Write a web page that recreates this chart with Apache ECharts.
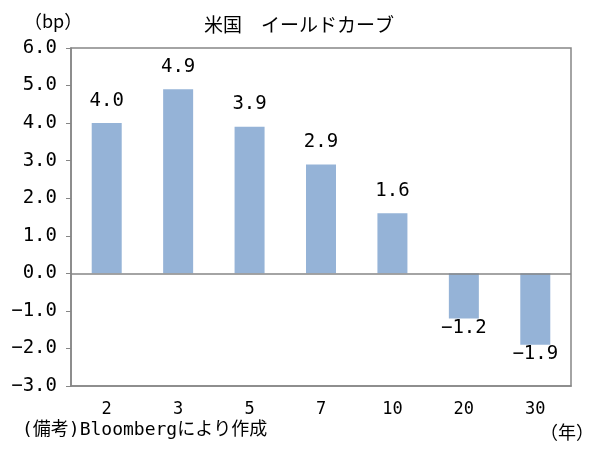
<!DOCTYPE html>
<html>
<head>
<meta charset="utf-8">
<script src="https://cdn.jsdelivr.net/npm/echarts@6/dist/echarts.min.js"></script>
<style>
    html, body { margin: 0; padding: 0; background: #fff; }
    #chartYield { width: 598px; height: 458px; }
</style>
</head>
<body>
<div id="chartYield"></div>
<script>
// 年限
var maturities = ['2', '3', '5', '7', '10', '20', '30'];
// 利回り変化（bp）
var changeBp = [4.0, 4.9, 3.9, 2.9, 1.6, -1.2, -1.9];

var yMin = -3;
var yMax = 6;
var yStep = 1;

// 半角は等幅、全角は日本語フォントで
var monoFont = '"DejaVu Sans Mono", "Noto Sans CJK JP", monospace';
var jpFont = '"Noto Sans CJK JP", sans-serif';

var YieldCurve = {
    init: function () {
        var chart = echarts.init(document.getElementById('chartYield'));
        chart.setOption(YieldCurve.buildOption());
        return chart;
    },
    //数値の書式（マイナスは全角風の記号）
    fmt: function (v) {
        return v.toFixed(1).replace('-', '−');
    },
    //正の値は上、負の値は下にラベル
    barData: function () {
        return changeBp.map(function (v) {
            return {
                value: v,
                label: v >= 0 ? { position: 'top', distance: 13 } : { position: 'bottom', distance: 0 }
            };
        });
    },
    buildOption: function () {
        return {
            animation: false,
            backgroundColor: '#fff',
            title: {
                text: '米国　イールドカーブ',
                left: 'center',
                top: 10,
                textStyle: { fontFamily: jpFont, fontSize: 19, fontWeight: 'normal', color: '#000' }
            },
            grid: {
                left: 71,
                right: 27,
                top: 48,
                bottom: 72,
                show: true,
                borderColor: '#868686',
                borderWidth: 1.5
            },
            xAxis: {
                type: 'category',
                data: maturities,
                axisLine: { onZero: false, lineStyle: { color: '#868686', width: 1.5 } },
                axisTick: { show: false },
                axisLabel: { margin: 15, fontFamily: monoFont, fontSize: 17, color: '#000' }
            },
            yAxis: {
                type: 'value',
                min: yMin,
                max: yMax,
                interval: yStep,
                splitLine: { show: false },
                axisLine: { show: true, lineStyle: { color: '#868686', width: 1.5 } },
                axisTick: { show: true, length: 5, lineStyle: { color: '#868686' } },
                axisLabel: {
                    margin: 14,
                    fontFamily: monoFont,
                    fontSize: 19,
                    color: '#000',
                    formatter: function (v) { return YieldCurve.fmt(v); }
                }
            },
            graphic: [
                { type: 'text', left: 24, top: 12, style: { text: '（bp）', font: '18px ' + jpFont, fill: '#000' } },
                { type: 'text', right: 4, top: 423, style: { text: '（年）', font: '18px ' + jpFont, fill: '#000' } },
                { type: 'text', left: 22, top: 421, style: { text: '(備考)Bloombergにより作成', font: '18px ' + monoFont, fill: '#000' } }
            ],
            series: [{
                type: 'bar',
                barWidth: 30,
                data: YieldCurve.barData(),
                itemStyle: { color: '#95B3D7' },
                label: {
                    show: true,
                    fontFamily: monoFont,
                    fontSize: 19,
                    color: '#000',
                    formatter: function (p) { return YieldCurve.fmt(p.value); }
                },
                markLine: {
                    silent: true,
                    symbol: 'none',
                    label: { show: false },
                    lineStyle: { color: '#868686', width: 1.5, type: 'solid' },
                    data: [{ yAxis: 0 }]
                }
            }]
        };
    }
};

YieldCurve.init();
</script>
</body>
</html>
